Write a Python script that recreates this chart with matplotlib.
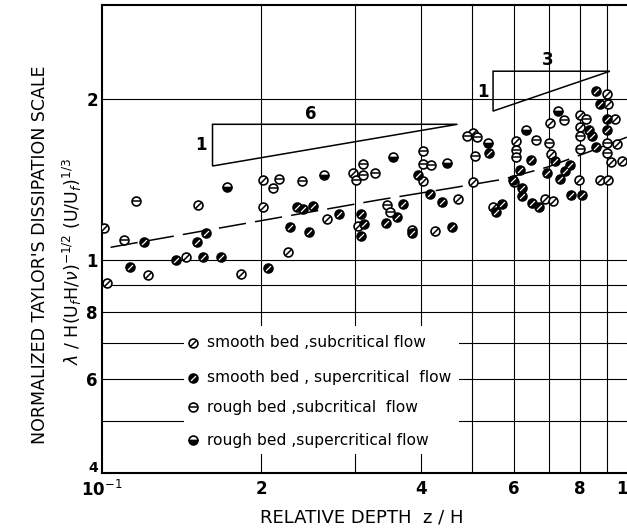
import matplotlib
matplotlib.use("Agg")
import matplotlib.pyplot as plt
from matplotlib.path import Path
from matplotlib.patches import Polygon, Rectangle
from matplotlib.transforms import ScaledTranslation

# smooth bed, subcritical flow
smooth_sub_x = [0.101, 0.102, 0.122, 0.144, 0.183, 0.152, 0.201, 0.201, 0.225, 0.266,
                0.298, 0.305, 0.385, 0.425, 0.403, 0.471, 0.502, 0.502, 0.548, 0.605,
                0.600, 0.687, 0.711, 0.702, 0.705, 0.796, 0.799, 0.799, 0.899, 0.902,
                0.930, 0.938, 0.915, 0.961, 0.872, 0.902]
smooth_sub_y = [1.15, 0.905, 0.937, 1.013, 0.942, 1.27, 1.41, 1.255, 1.035, 1.193,
                1.455, 1.157, 1.138, 1.133, 1.405, 1.30, 1.726, 1.40, 1.255, 1.668,
                1.398, 1.30, 1.289, 1.803, 1.58, 1.41, 1.866, 1.772, 2.043, 1.96,
                1.833, 1.65, 1.525, 1.53, 1.41, 1.41]

# smooth bed, supercritical flow
smooth_sup_x = [0.120, 0.113, 0.138, 0.155, 0.168, 0.151, 0.157, 0.206, 0.233, 0.240,
                0.250, 0.226, 0.246, 0.280, 0.308, 0.313, 0.308, 0.360, 0.344, 0.371,
                0.385, 0.396, 0.416, 0.438, 0.458, 0.539, 0.570, 0.555, 0.646, 0.616,
                0.598, 0.620, 0.622, 0.649, 0.669, 0.717, 0.692, 0.733, 0.750, 0.765,
                0.770, 0.808, 0.830, 0.842, 0.857, 0.899, 0.900, 0.857, 0.872]
smooth_sup_y = [1.08, 0.97, 1.0, 1.013, 1.013, 1.08, 1.123, 0.966, 1.256, 1.246,
                1.265, 1.152, 1.128, 1.219, 1.219, 1.168, 1.109, 1.203, 1.172, 1.272,
                1.123, 1.442, 1.329, 1.284, 1.152, 1.585, 1.272, 1.229, 1.54, 1.473,
                1.411, 1.366, 1.32, 1.278, 1.256, 1.532, 1.457, 1.42, 1.467, 1.505,
                1.326, 1.323, 1.75, 1.705, 1.627, 1.75, 1.834, 2.07, 1.957]

# rough bed, subcritical flow
rough_sub_x = [0.116, 0.110, 0.210, 0.2155, 0.239, 0.302, 0.311, 0.311, 0.328, 0.345,
               0.350, 0.404, 0.403, 0.418, 0.488, 0.511, 0.507, 0.604, 0.604, 0.660,
               0.746, 0.699, 0.820, 0.801, 0.799, 0.899, 0.899]
rough_sub_y = [1.289, 1.09, 1.363, 1.42, 1.405, 1.411, 1.512, 1.442, 1.457, 1.267,
               1.229, 1.597, 1.514, 1.508, 1.707, 1.697, 1.564, 1.61, 1.558, 1.68,
               1.827, 1.655, 1.834, 1.708, 1.617, 1.655, 1.585]

# rough bed, supercritical flow
rough_sup_x = [0.172, 0.263, 0.355, 0.449, 0.536, 0.631, 0.727]
rough_sup_y = [1.369, 1.442, 1.557, 1.518, 1.655, 1.75, 1.903]

# dashed mean curve
fit_x = [0.1038, 0.2173, 0.3313, 0.4547, 0.5725, 0.6927, 0.8277, 0.98]
fit_y = [1.057, 1.203, 1.295, 1.363, 1.417, 1.492, 1.592, 1.698]

x_ticks = [0.1, 0.2, 0.4, 0.6, 0.8, 1.0]
x_tick_labels = ['10$^{-1}$', '2', '4', '6', '8', '1']
y_ticks = [0.4, 0.6, 0.8, 1.0, 2.0]
y_tick_labels = ['4', '6', '8', '1', '2']
grid_x = [0.2, 0.3, 0.4, 0.5, 0.6, 0.7, 0.8, 0.9]
grid_y = [0.5, 0.6, 0.7, 0.8, 0.9, 1.0, 2.0]

legend_labels = ['smooth bed ,subcritical flow',
                 'smooth bed , supercritical  flow',
                 'rough bed ,subcritical  flow',
                 'rough bed ,supercritical flow']

SLASH = Path([(-1, -1), (1, 1)], [Path.MOVETO, Path.LINETO])
MS = 6.4


def draw_points(ax, x, y, kind, **kw):
    if kind == 'smooth_sub':
        ax.plot(x, y, 'o', ms=MS, mfc='white', mec='black', mew=1.2, ls='none', zorder=4, **kw)
        ax.plot(x, y, marker=SLASH, ms=MS * 0.66, mec='black', mew=1.1, ls='none', zorder=5, **kw)
    elif kind == 'smooth_sup':
        ax.plot(x, y, 'o', ms=MS, mfc='black', mec='black', mew=1.2, ls='none', zorder=4, **kw)
        ax.plot(x, y, marker=SLASH, ms=MS * 0.55, mec='white', mew=0.9, ls='none', zorder=5, **kw)
    elif kind == 'rough_sub':
        ax.plot(x, y, 'o', ms=MS, mfc='white', mec='black', mew=1.2, ls='none', zorder=4, **kw)
        ax.plot(x, y, '_', ms=MS, mec='black', mew=1.1, ls='none', zorder=5, **kw)
    else:
        ax.plot(x, y, 'o', ms=MS, mfc='black', mfcalt='white', fillstyle='bottom',
                mec='black', mew=1.2, ls='none', zorder=4, **kw)


fig = plt.figure(figsize=(6.27, 5.30), dpi=100)
ax = fig.add_axes([102 / 627, 57 / 530, 529.5 / 627, 468 / 530])
ax.set_xscale('log')
ax.set_yscale('log')
ax.set_xlim(0.1, 1.0)
ax.set_ylim(0.4, 3.0)

for gx in grid_x:
    ax.axvline(gx, color='black', lw=0.8, zorder=1)
for gy in grid_y:
    ax.axhline(gy, color='black', lw=0.8, zorder=1)

ax.plot(fit_x, fit_y, color='black', lw=1.1, dashes=(18, 6), zorder=2)

draw_points(ax, smooth_sub_x, smooth_sub_y, 'smooth_sub')
draw_points(ax, smooth_sup_x, smooth_sup_y, 'smooth_sup')
draw_points(ax, rough_sub_x, rough_sub_y, 'rough_sub')
draw_points(ax, rough_sup_x, rough_sup_y, 'rough_sup')

# slope triangles
tri1 = Polygon([(0.1617, 1.795), (0.4691, 1.795), (0.1617, 1.50)], closed=True,
               fill=False, ec='black', lw=1.1, zorder=3)
tri2 = Polygon([(0.5477, 2.256), (0.9104, 2.256), (0.5477, 1.90)], closed=True,
               fill=False, ec='black', lw=1.1, zorder=3)
ax.add_patch(tri1)
ax.add_patch(tri2)
ax.text(0.248, 1.88, '6', ha='center', va='center', fontsize=12, fontweight='bold')
ax.text(0.1535, 1.64, '1', ha='center', va='center', fontsize=12, fontweight='bold')
ax.text(0.6945, 2.37, '3', ha='center', va='center', fontsize=12, fontweight='bold')
ax.text(0.525, 2.06, '1', ha='center', va='center', fontsize=12, fontweight='bold')

# legend block
ax.add_patch(Rectangle((0.155, 0.04), 0.52, 0.275, transform=ax.transAxes,
                       fc='white', ec='none', zorder=3))
kinds = ['smooth_sub', 'smooth_sup', 'rough_sub', 'rough_sup']
rows = [0.2778, 0.203, 0.141, 0.0705]
for kind, label, ry in zip(kinds, legend_labels, rows):
    draw_points(ax, [0.172], [ry], kind, transform=ax.transAxes)
    ax.text(0.198, ry, label, transform=ax.transAxes, ha='left', va='center',
            fontsize=11.2, zorder=6)

ax.set_xticks(x_ticks)
ax.set_xticklabels(x_tick_labels)
ax.set_yticks(y_ticks)
ax.set_yticklabels(y_tick_labels)
ax.minorticks_off()
ax.tick_params(length=0, labelsize=12)
ax.tick_params(axis='y', pad=3)
ax.tick_params(axis='x', pad=5)
for lab in ax.get_xticklabels() + ax.get_yticklabels():
    lab.set_fontweight('bold')
last = ax.get_xticklabels()[-1]
last.set_transform(last.get_transform() + ScaledTranslation(-10 / 100, 0, fig.dpi_scale_trans))
low = ax.get_yticklabels()[0]
low.set_fontsize(10)
low.set_transform(low.get_transform() + ScaledTranslation(0, 7 / 100, fig.dpi_scale_trans))

for side in ['left', 'bottom', 'top']:
    ax.spines[side].set_linewidth(1.5)
ax.spines['right'].set_visible(False)

fig.text(40 / 627, 1 - 255 / 530, "NORMALIZED TAYLOR'S DISSIPATION SCALE",
         rotation=90, ha='center', va='center', fontsize=12.5)
fig.text(72 / 627, 1 - 262 / 530,
         r"$\lambda$ / H(U$_f$H/$\nu$)$^{-1/2}$ (U/U$_f$)$^{1/3}$",
         rotation=90, ha='center', va='center', fontsize=12.5)
fig.text(362 / 627, 1 - 518 / 530, 'RELATIVE DEPTH  z / H',
         ha='center', va='center', fontsize=13)

fig.savefig('out.png', dpi=100)
